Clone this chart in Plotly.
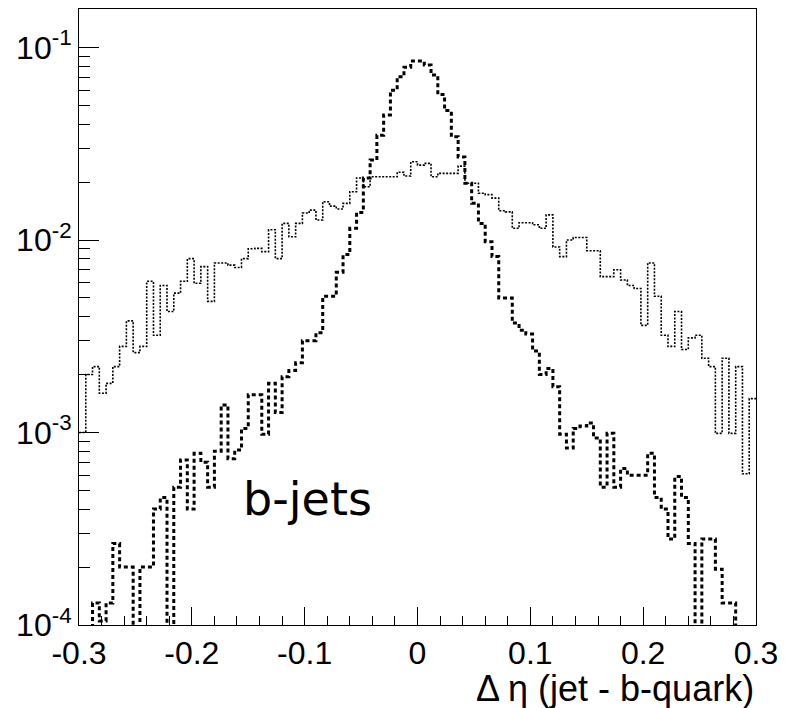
import numpy as np
import plotly.graph_objects as go

# 100 bins of delta-eta between -0.3 and 0.3
X_MIN = -0.3
X_MAX = 0.3
N_BINS = 100

# narrow distribution (thick dashed)
dashedValues = [
    0, 0, 1.3e-4, 1.05e-4, 1.3e-4, 2.65e-4, 2.0e-4, 2.0e-4, 0, 2.0e-4,
    2.0e-4, 4.0e-4, 4.6e-4, 0, 5.2e-4, 7.2e-4, 4.0e-4, 7.8e-4, 7.0e-4, 5.2e-4,
    8.0e-4, 1.39e-3, 7.3e-4, 8.1e-4, 1.05e-3, 1.57e-3, 1.57e-3, 9.8e-4, 1.8e-3, 1.27e-3,
    1.95e-3, 2.1e-3, 2.3e-3, 3.0e-3, 3.0e-3, 3.3e-3, 5.1e-3, 5.1e-3, 6.8e-3, 8.4e-3,
    1.15e-2, 1.39e-2, 2.1e-2, 2.6e-2, 3.5e-2, 4.46e-2, 6.0e-2, 7.05e-2, 7.9e-2, 8.5e-2,
    8.5e-2, 8.1e-2, 7.2e-2, 5.7e-2, 4.7e-2, 3.44e-2, 2.7e-2, 1.97e-2, 1.55e-2, 1.22e-2,
    9.8e-3, 8.2e-3, 5.0e-3, 5.0e-3, 3.7e-3, 3.4e-3, 3.25e-3, 2.65e-3, 2.0e-3, 2.15e-3,
    1.73e-3, 9.8e-4, 8.3e-4, 1.05e-3, 1.08e-3, 1.12e-3, 9.35e-4, 5.2e-4, 9.9e-4, 5.2e-4,
    6.5e-4, 6.0e-4, 6.0e-4, 6.0e-4, 7.8e-4, 4.6e-4, 4.0e-4, 2.8e-4, 5.9e-4, 4.6e-4,
    2.65e-4, 0, 2.8e-4, 2.8e-4, 1.95e-4, 1.3e-4, 1.3e-4, 0, 0, 0,
]

# wide distribution (thin dotted)
dottedValues = [
    1.0e-3, 2.0e-3, 2.2e-3, 1.6e-3, 1.8e-3, 2.2e-3, 2.8e-3, 3.8e-3, 2.6e-3, 2.8e-3,
    6.1e-3, 3.2e-3, 5.8e-3, 4.25e-3, 5.3e-3, 6.1e-3, 8.0e-3, 5.96e-3, 7.27e-3, 4.8e-3,
    7.6e-3, 7.6e-3, 7.4e-3, 7.2e-3, 8.0e-3, 9.0e-3, 9.05e-3, 8.7e-3, 1.13e-2, 8.0e-3,
    1.22e-2, 1.04e-2, 1.22e-2, 1.38e-2, 1.43e-2, 1.27e-2, 1.58e-2, 1.5e-2, 1.45e-2, 1.55e-2,
    1.78e-2, 2.1e-2, 1.89e-2, 2.13e-2, 2.13e-2, 2.13e-2, 2.13e-2, 2.25e-2, 2.15e-2, 2.55e-2,
    2.45e-2, 2.5e-2, 2.13e-2, 2.22e-2, 2.22e-2, 2.22e-2, 2.42e-2, 1.97e-2, 1.97e-2, 1.75e-2,
    1.72e-2, 1.65e-2, 1.42e-2, 1.40e-2, 1.15e-2, 1.23e-2, 1.23e-2, 1.2e-2, 1.15e-2, 1.35e-2,
    9.2e-3, 8.2e-3, 1.0e-2, 1.03e-2, 1.03e-2, 8.8e-3, 8.8e-3, 6.45e-3, 6.45e-3, 7.0e-3,
    6.2e-3, 5.8e-3, 5.6e-3, 3.6e-3, 7.6e-3, 5.1e-3, 3.2e-3, 2.8e-3, 4.25e-3, 2.7e-3,
    3.1e-3, 3.2e-3, 2.43e-3, 2.2e-3, 9.9e-4, 2.43e-3, 9.9e-4, 2.2e-3, 6.1e-4, 1.5e-3,
]

yTickVals = [1e-4, 1e-3, 1e-2, 1e-1]
yTickText = ["10<sup>-4</sup>", "10<sup>-3</sup>", "10<sup>-2</sup>", "10<sup>-1</sup>"]
xTickVals = [-0.3, -0.2, -0.1, 0, 0.1, 0.2, 0.3]
xTickText = ["-0.3", "-0.2", "-0.1", "0", "0.1", "0.2", "0.3"]
xTitle = "\u0394 \u03b7 (jet - b-quark)"
label = "b-jets"

FONT = "Liberation Sans, Arial, sans-serif"
EMPTY_BIN = 1e-7  # empty bins fall below the log range, like ROOT draws them
Y_RANGE = [-4, -0.8]


def _stepXY(values):
    """Bin edges and values for an 'hv' step outline of a fixed-width histogram."""
    tEdges = np.linspace(X_MIN, X_MAX, N_BINS + 1)
    tY = [v if v > 0 else EMPTY_BIN for v in values]
    tY = tY + [tY[-1]]
    return tEdges, tY


fig = go.Figure()
for tValues, tWidth, tDash in [
    (dottedValues, 1.6, "2px,1.5px"),
    (dashedValues, 3, "4px,3px"),
]:
    tX, tY = _stepXY(tValues)
    fig.add_trace(
        go.Scatter(
            x=tX,
            y=tY,
            mode="lines",
            line=dict(color="black", width=tWidth, dash=tDash, shape="hv"),
            showlegend=False,
            hoverinfo="skip",
            cliponaxis=True,
        )
    )

minorVals = [m * 10.0 ** e for e in range(-4, 0) for m in range(2, 10)]

_xTicks = dict(
    range=[X_MIN, X_MAX],
    tickvals=xTickVals,
    ticks="inside",
    ticklen=18,
    tickwidth=1,
    tickcolor="black",
    minor=dict(dtick=0.02, ticks="inside", ticklen=9, tickcolor="black", tickwidth=1),
    showgrid=False,
    zeroline=False,
    automargin=False,
)
_yTicks = dict(
    type="log",
    range=Y_RANGE,
    tickvals=yTickVals,
    ticks="inside",
    ticklen=20,
    tickwidth=1,
    tickcolor="black",
    minor=dict(tickvals=minorVals, ticks="inside", ticklen=11, tickcolor="black", tickwidth=1),
    showgrid=False,
    zeroline=False,
    automargin=False,
)

fig.update_layout(
    xaxis=dict(
        _xTicks,
        ticktext=xTickText,
        showline=True,
        linecolor="black",
        linewidth=1,
        mirror=True,
        tickfont=dict(family=FONT, size=32, color="black"),
    ),
    yaxis=dict(
        _yTicks,
        ticktext=yTickText,
        showline=True,
        linecolor="black",
        linewidth=1,
        mirror=True,
        tickfont=dict(family=FONT, size=32, color="black"),
    ),
    # frame ticks along the top and right edges, ROOT style
    xaxis2=dict(_xTicks, overlaying="x", side="top", anchor="y", showticklabels=False),
    yaxis2=dict(_yTicks, overlaying="y", side="right", anchor="x", showticklabels=False),
)

fig.add_annotation(
    text=xTitle,
    xref="paper",
    yref="paper",
    x=1.0,
    y=-0.103,
    xanchor="right",
    yanchor="middle",
    showarrow=False,
    font=dict(family=FONT, size=36, color="black"),
)
fig.add_annotation(
    text=label,
    xref="paper",
    yref="paper",
    x=0.24,
    y=0.205,
    xanchor="left",
    yanchor="middle",
    showarrow=False,
    font=dict(family="DejaVu Sans", size=46, color="black"),
)

# the page body adds an 8 px offset, so the figure is 8 px smaller on each axis
fig.update_layout(
    width=777,
    height=700,
    margin=dict(l=71, r=29, t=1, b=83),
    paper_bgcolor="white",
    plot_bgcolor="white",
)

fig.write_html("out.html")
